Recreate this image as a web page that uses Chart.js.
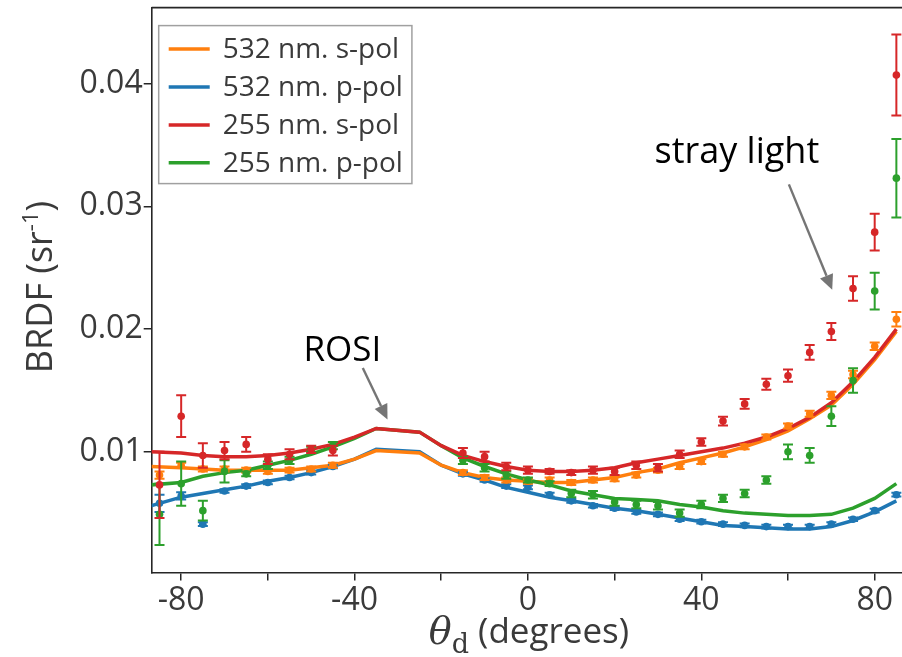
<!DOCTYPE html>
<html>
<head>
<meta charset="utf-8">
<script src="https://cdn.jsdelivr.net/npm/chart.js@4.4.1/dist/chart.umd.min.js"></script>
<style>
  html, body { margin: 0; padding: 0; background: #fff; }
  canvas { display: block; }
</style>
</head>
<body>
<canvas id="brdf-chart" width="902" height="657"></canvas>
<script>
// model curves (degrees, sr^-1)
const modelAngles = [-87, -80, -75, -70, -65, -60, -55, -50, -45, -40, -35, -25, -20, -15, -10, -5, 0,
  5, 10, 15, 20, 25, 30, 35, 40, 45, 50, 55, 60, 65, 70, 75, 80, 85];
const model532s = [0.0088, 0.0087, 0.0086, 0.0085, 0.0085, 0.0085, 0.0085, 0.0087, 0.0089, 0.0094, 0.0101,
  0.0099, 0.0089, 0.0083, 0.0079, 0.0077, 0.0076, 0.0075, 0.0075, 0.0077, 0.0079, 0.0083, 0.0086, 0.0091,
  0.0095, 0.0099, 0.0104, 0.0110, 0.0117, 0.0127, 0.0138, 0.0155, 0.0175, 0.0198];
const model532p = [0.0056, 0.0063, 0.0066, 0.0069, 0.0072, 0.0076, 0.0079, 0.0083, 0.0088, 0.0094, 0.0102,
  0.0100, 0.0089, 0.0082, 0.0077, 0.0071, 0.0067, 0.0063, 0.0060, 0.0057, 0.0054, 0.0052, 0.0049, 0.0046,
  0.0043, 0.0040, 0.0039, 0.0038, 0.0037, 0.0037, 0.0039, 0.0044, 0.0051, 0.0060];
const model255s = [0.0100, 0.0099, 0.0097, 0.0096, 0.0096, 0.0097, 0.0099, 0.0102, 0.0106, 0.0112, 0.0119,
  0.0116, 0.0105, 0.0097, 0.0092, 0.0088, 0.0085, 0.0084, 0.0084, 0.0085, 0.0087, 0.0091, 0.0094, 0.0097,
  0.0100, 0.0103, 0.0107, 0.0112, 0.0119, 0.0128, 0.0140, 0.0157, 0.0177, 0.0200];
const model255p = [0.0073, 0.0075, 0.0080, 0.0083, 0.0085, 0.0089, 0.0093, 0.0098, 0.0104, 0.0111, 0.0119,
  0.0116, 0.0105, 0.0095, 0.0088, 0.0082, 0.0077, 0.0073, 0.0068, 0.0065, 0.0062, 0.0061, 0.0060, 0.0057,
  0.0055, 0.0052, 0.0050, 0.0049, 0.0048, 0.0048, 0.0049, 0.0054, 0.0062, 0.0074];

// measured points with their uncertainties
const measAngles = [-85, -80, -75, -70, -65, -60, -55, -50, -45, -15, -10, -5, 0, 5, 10, 15, 20, 25, 30,
  35, 40, 45, 50, 55, 60, 65, 70, 75, 80, 85];
const meas532s = [0.0081, 0.0089, 0.0086, 0.0086, 0.0085, 0.0084, 0.0085, 0.0086, 0.0089, 0.0083, 0.0079,
  0.0077, 0.0076, 0.0077, 0.0075, 0.0077, 0.0078, 0.0081, 0.0085, 0.0088, 0.0092, 0.0098, 0.0104, 0.0112,
  0.0121, 0.0131, 0.0146, 0.0163, 0.0186, 0.0208];
const err532s = [0.0003, 0.0002, 0.0002, 0.0002, 0.0002, 0.0002, 0.0002, 0.0002, 0.0002, 0.0002, 0.0002,
  0.0002, 0.0002, 0.0002, 0.0002, 0.0002, 0.0002, 0.0002, 0.0002, 0.0002, 0.0002, 0.0002, 0.0002, 0.0002,
  0.0002, 0.00025, 0.0003, 0.0003, 0.0003, 0.0006];
const meas532p = [0.0058, 0.0064, 0.0041, 0.0068, 0.0072, 0.0075, 0.0079, 0.0083, 0.0088, 0.0082, 0.0077,
  0.0072, 0.0071, 0.0065, 0.0060, 0.0056, 0.0054, 0.0051, 0.0049, 0.0045, 0.0043, 0.0041, 0.0040, 0.0039,
  0.0039, 0.0039, 0.0041, 0.0045, 0.0052, 0.0065];
const err532p = [0.0007, 0.0003, 0.00015, 0.00015, 0.00015, 0.00015, 0.00015, 0.00015, 0.00015, 0.00015,
  0.00015, 0.00015, 0.00015, 0.00015, 0.00015, 0.00015, 0.00015, 0.00015, 0.00015, 0.00015, 0.00015,
  0.00015, 0.00015, 0.00015, 0.00015, 0.00015, 0.00015, 0.00015, 0.00015, 0.00015];
const meas255s = [0.0073, 0.0129, 0.0097, 0.0101, 0.0106, 0.0094, 0.0098, 0.0102, 0.0101, 0.0099, 0.0096,
  0.0088, 0.0085, 0.0084, 0.0083, 0.0085, 0.0084, 0.0089, 0.0087, 0.0098, 0.0108, 0.0125, 0.0139, 0.0155,
  0.0162, 0.0181, 0.0198, 0.0233, 0.0279, 0.0407];
const err255s = [0.0027, 0.0017, 0.0010, 0.0007, 0.0006, 0.0004, 0.0004, 0.0003, 0.0004, 0.0004, 0.0004,
  0.0003, 0.0003, 0.0002, 0.0002, 0.0003, 0.0003, 0.0003, 0.0003, 0.0003, 0.0003, 0.00035, 0.0004, 0.00045,
  0.0005, 0.0006, 0.0007, 0.0010, 0.0015, 0.0033];
const meas255p = [0.0049, 0.0074, 0.0052, 0.0084, 0.0082, 0.0089, 0.0093, 0.0102, 0.0105, 0.0093, 0.0087,
  0.0081, 0.0077, 0.0074, 0.0066, 0.0065, 0.0059, 0.0057, 0.0056, 0.0050, 0.0057, 0.0062, 0.0066, 0.0077,
  0.0100, 0.0097, 0.0129, 0.0158, 0.0231, 0.0323];
const err255p = [0.0025, 0.0018, 0.0008, 0.0009, 0.0002, 0.0003, 0.0003, 0.0002, 0.0003, 0.0003, 0.0003,
  0.0003, 0.0002, 0.0002, 0.0003, 0.0003, 0.0003, 0.0003, 0.0003, 0.0003, 0.0003, 0.0003, 0.0003, 0.0003,
  0.0006, 0.0006, 0.0008, 0.0010, 0.0015, 0.0032];

const xTicks = [-80, -60, -40, -20, 0, 20, 40, 60, 80];
const yTicks = [0.01, 0.02, 0.03, 0.04];

const ORANGE = '#ff7f0e', BLUE = '#1f77b4', RED = '#d62728', GREEN = '#2ca02c';
const TEXT = '#3a3a3a';
const FONT = "'Open Sans', 'DejaVu Sans', sans-serif";

const toXY = (xs, ys) => xs.map((x, i) => ({x: x, y: ys[i]}));

function modelLine(label, values, color, order, rank) {
  return {
    label: label, data: toXY(modelAngles, values),
    borderColor: color, borderWidth: 3.5, pointRadius: 0, tension: 0,
    fill: false, order: order, legendRank: rank,
  };
}

function measured(values, errors, color, order) {
  return {
    data: toXY(measAngles, values), errors: errors,
    showLine: false, borderColor: color, backgroundColor: color,
    pointRadius: 3.8, pointBorderWidth: 0, pointBackgroundColor: color, order: order,
  };
}

// vertical error bars with caps, drawn right after each point set
const errorBars = {
  id: 'errorBars',
  afterDatasetDraw(chart, args) {
    const ds = chart.data.datasets[args.index];
    if (!ds.errors) return;
    const {ctx, scales: {x, y}} = chart;
    ctx.save();
    ctx.strokeStyle = ds.borderColor;
    ctx.lineWidth = 2;
    ds.data.forEach((p, i) => {
      const e = ds.errors[i];
      const px = x.getPixelForValue(p.x);
      const top = y.getPixelForValue(p.y + e);
      const bot = y.getPixelForValue(p.y - e);
      ctx.beginPath();
      ctx.moveTo(px, top); ctx.lineTo(px, bot);
      ctx.moveTo(px - 5, top); ctx.lineTo(px + 5, top);
      ctx.moveTo(px - 5, bot); ctx.lineTo(px + 5, bot);
      ctx.stroke();
    });
    ctx.restore();
  },
};

// top spine, boxed legend, axis titles and the two callouts
const decorations = {
  id: 'decorations',
  afterDraw(chart) {
    const {ctx, chartArea: area, scales: {x, y}} = chart;
    ctx.save();

    ctx.strokeStyle = '#262626';
    ctx.lineWidth = 1.6;
    ctx.beginPath();
    ctx.moveTo(area.left, area.top);
    ctx.lineTo(area.right, area.top);
    ctx.stroke();

    // legend
    const items = chart.data.datasets.filter(d => d.legendRank !== undefined)
      .sort((a, b) => a.legendRank - b.legendRank);
    ctx.font = '28px ' + FONT;
    const textW = Math.max(...items.map(d => ctx.measureText(d.label).width));
    const lx = area.left + 7, ly = area.top + 18;
    const boxW = 64 + textW + 9, boxH = 158;
    ctx.fillStyle = 'rgba(255,255,255,0.9)';
    ctx.fillRect(lx, ly, boxW, boxH);
    ctx.strokeStyle = '#a0a0a0';
    ctx.lineWidth = 1.5;
    ctx.strokeRect(lx, ly, boxW, boxH);
    ctx.textBaseline = 'middle';
    ctx.textAlign = 'left';
    items.forEach((d, i) => {
      const rowY = ly + 23.5 + i * 37.9;
      ctx.strokeStyle = d.borderColor;
      ctx.lineWidth = 3.5;
      ctx.beginPath();
      ctx.moveTo(lx + 10, rowY);
      ctx.lineTo(lx + 51, rowY);
      ctx.stroke();
      ctx.fillStyle = TEXT;
      ctx.fillText(d.label, lx + 64, rowY + 1);
    });

    // y title: BRDF (sr^-1)
    const yParts = [
      {t: 'BRDF (sr', f: '36px ' + FONT, dy: 0},
      {t: '-1', f: '22px ' + FONT, dy: -14},
      {t: ')', f: '36px ' + FONT, dy: 0},
    ];
    ctx.save();
    ctx.translate(40, (area.top + area.bottom) / 2 - 3);
    ctx.rotate(-Math.PI / 2);
    let total = 0;
    yParts.forEach(p => { ctx.font = p.f; p.w = ctx.measureText(p.t).width; total += p.w; });
    let cx = -total / 2;
    ctx.fillStyle = TEXT;
    ctx.textBaseline = 'alphabetic';
    yParts.forEach(p => { ctx.font = p.f; ctx.fillText(p.t, cx, 12 + p.dy); cx += p.w; });
    ctx.restore();

    // x title: theta_d (degrees)
    const xParts = [
      {t: '\u03b8', f: 'italic 38px "DejaVu Serif", serif', base: 644},
      {t: 'd', f: '27px "DejaVu Serif", serif', base: 653},
      {t: ' (degrees)', f: '35px ' + FONT, base: 643},
    ];
    total = 0;
    xParts.forEach(p => { ctx.font = p.f; p.w = ctx.measureText(p.t).width; total += p.w; });
    cx = x.getPixelForValue(0) + 1 - total / 2;
    ctx.fillStyle = TEXT;
    ctx.textBaseline = 'alphabetic';
    xParts.forEach(p => { ctx.font = p.f; ctx.fillText(p.t, cx, p.base); cx += p.w; });

    // callouts with arrows, placed in data units
    const notes = [
      {text: 'ROSI', size: 35, at: [-42.8, 0.01739], from: [-38.1, 0.01682], to: [-32.4, 0.01262]},
      {text: 'stray light', size: 36, at: [48.2, 0.03356], from: [60.2, 0.03179], to: [70.2, 0.02321]},
    ];
    notes.forEach(n => {
      ctx.font = n.size + 'px ' + FONT;
      ctx.fillStyle = '#000';
      ctx.textAlign = 'center';
      ctx.fillText(n.text, x.getPixelForValue(n.at[0]), y.getPixelForValue(n.at[1]));
      const x0 = x.getPixelForValue(n.from[0]), y0 = y.getPixelForValue(n.from[1]);
      const x1 = x.getPixelForValue(n.to[0]), y1 = y.getPixelForValue(n.to[1]);
      const ang = Math.atan2(y1 - y0, x1 - x0);
      const headL = 15, headW = 7;
      const bx = x1 - headL * Math.cos(ang), by = y1 - headL * Math.sin(ang);
      ctx.strokeStyle = '#757575';
      ctx.fillStyle = '#757575';
      ctx.lineWidth = 2.4;
      ctx.beginPath();
      ctx.moveTo(x0, y0);
      ctx.lineTo(bx, by);
      ctx.stroke();
      ctx.beginPath();
      ctx.moveTo(x1, y1);
      ctx.lineTo(bx + headW * Math.sin(ang), by - headW * Math.cos(ang));
      ctx.lineTo(bx - headW * Math.sin(ang), by + headW * Math.cos(ang));
      ctx.closePath();
      ctx.fill();
    });

    ctx.restore();
  },
};

// the plot box is fixed: no extra room reserved for edge labels
function fixBox(size) {
  return s => {
    if (s.isHorizontal()) s.height = size; else s.width = size;
    s.paddingTop = 0; s.paddingBottom = 0; s.paddingLeft = 0; s.paddingRight = 0;
  };
}

new Chart(document.getElementById('brdf-chart'), {
  type: 'line',
  data: {
    datasets: [
      measured(meas255s, err255s, RED, 1),
      measured(meas255p, err255p, GREEN, 2),
      measured(meas532s, err532s, ORANGE, 3),
      measured(meas532p, err532p, BLUE, 4),
      modelLine('255 nm. s-pol', model255s, RED, 5, 2),
      modelLine('255 nm. p-pol', model255p, GREEN, 6, 3),
      modelLine('532 nm. s-pol', model532s, ORANGE, 7, 0),
      modelLine('532 nm. p-pol', model532p, BLUE, 8, 1),
    ],
  },
  options: {
    responsive: false,
    animation: false,
    layout: {autoPadding: false, padding: {top: 7.6, right: 0, left: 0, bottom: 0}},
    plugins: {legend: {display: false}, tooltip: {enabled: false}},
    scales: {
      x: {
        type: 'linear', min: -86.8, max: 86.3,
        afterBuildTicks: s => { s.ticks = xTicks.map(v => ({value: v})); },
        afterFit: fixBox(84.5),
        ticks: {
          autoSkip: false, maxRotation: 0, padding: 1, color: TEXT,
          font: {family: FONT, size: 32},
          callback: v => (v % 40 === 0 ? String(v) : ''),
        },
        grid: {drawOnChartArea: false, tickLength: 8, color: '#262626', lineWidth: 1.5},
        border: {color: '#262626', width: 1.6},
      },
      y: {
        type: 'linear', min: 0.00016, max: 0.0462,
        afterBuildTicks: s => { s.ticks = yTicks.map(v => ({value: v})); },
        afterFit: fixBox(151.7),
        ticks: {
          padding: 1, color: TEXT,
          font: {family: FONT, size: 32},
          callback: v => v.toFixed(2),
        },
        grid: {drawOnChartArea: false, tickLength: 8, color: '#262626', lineWidth: 1.5},
        border: {color: '#262626', width: 1.6},
      },
    },
  },
  plugins: [errorBars, decorations],
});
</script>
</body>
</html>
